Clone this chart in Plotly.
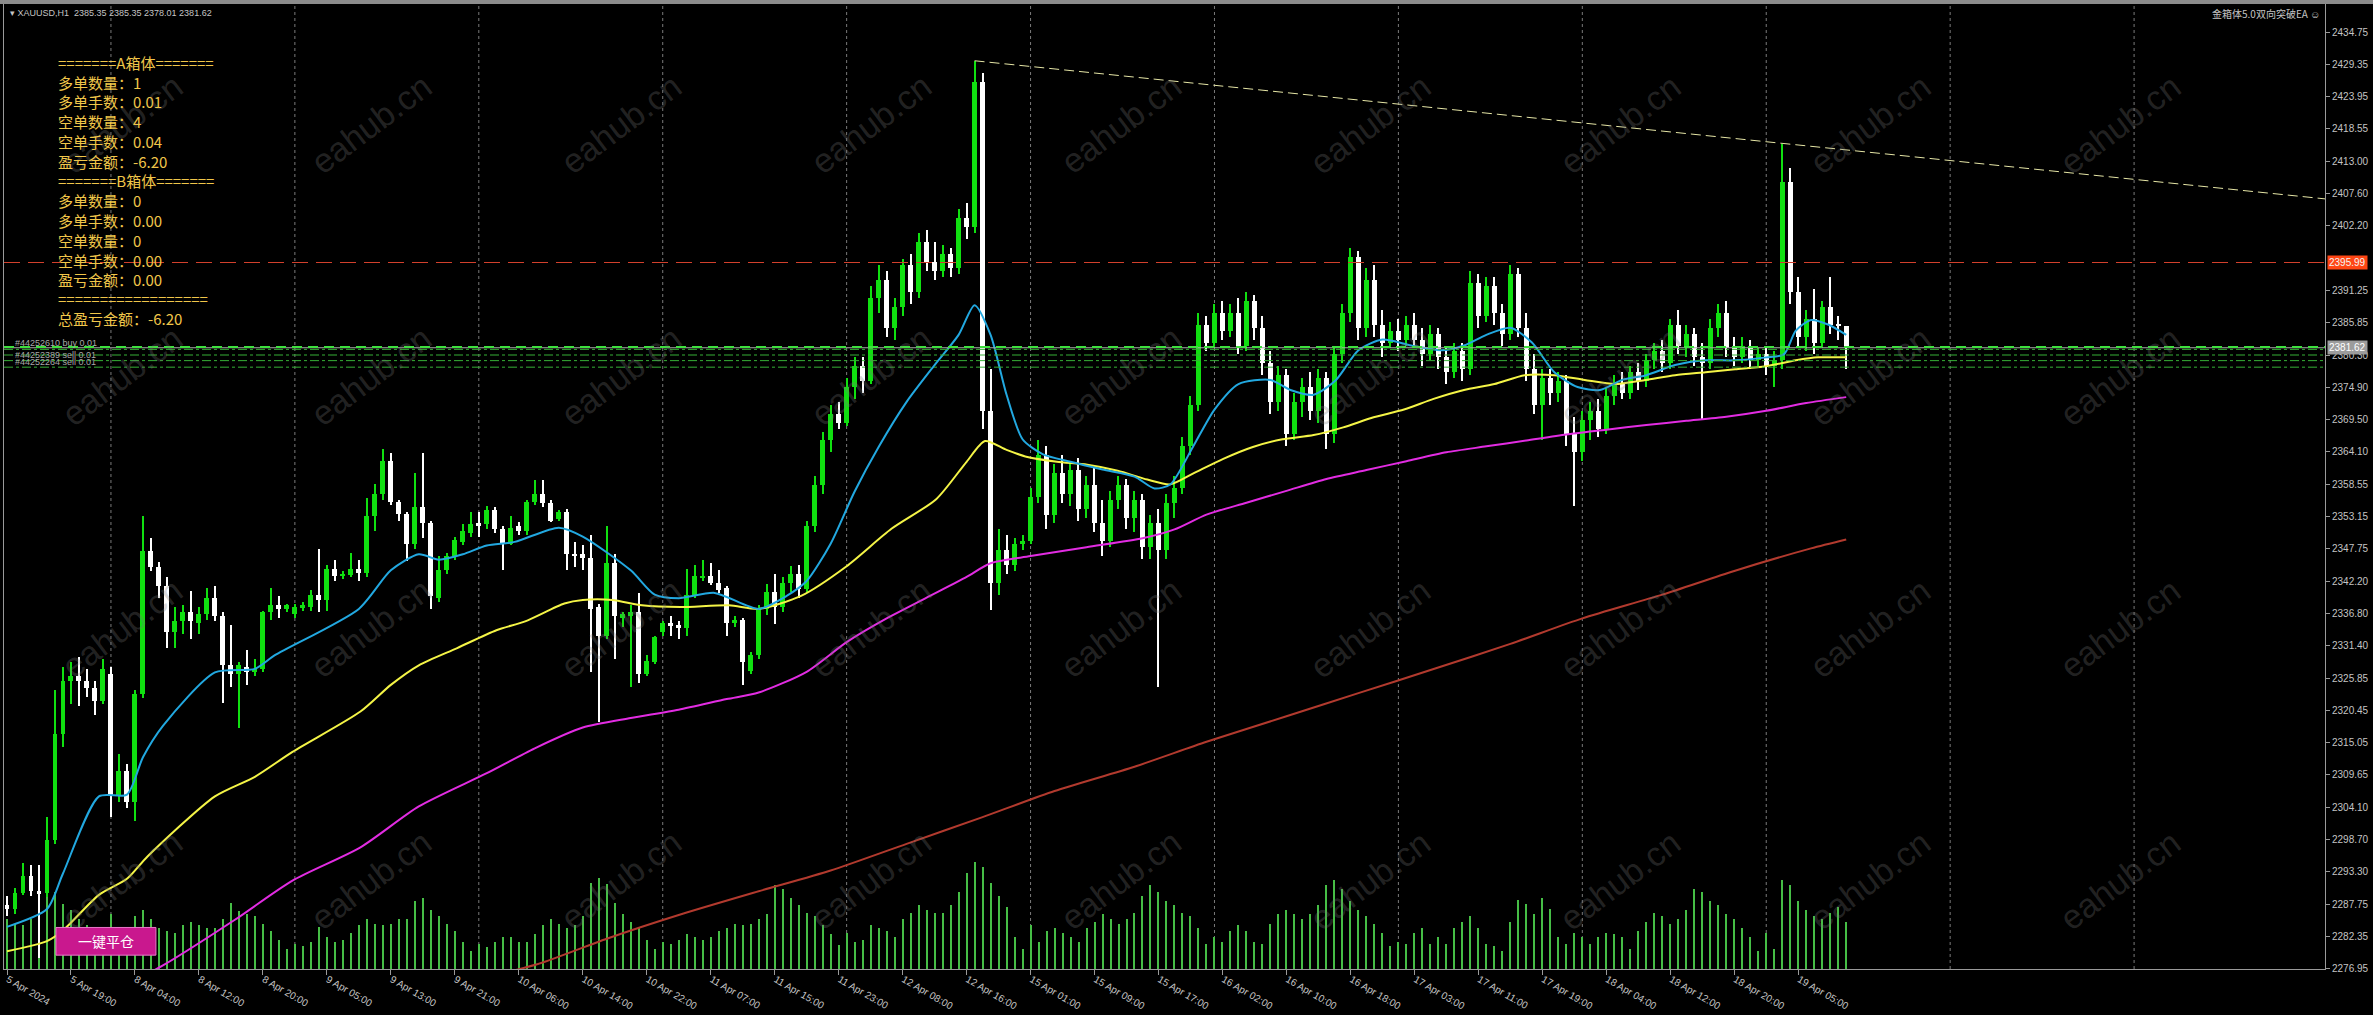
import plotly.graph_objects as go

# ---------------- data ----------------
opens = [
    2287.7, 2287.0, 2289.7, 2292.6, 2290.0, 2289.7, 2298.6, 2316.45, 2325.4, 2326.3,
    2325.4, 2324.2, 2322.1, 2326.6, 2306.0, 2310.2, 2305.1, 2323.3, 2347.4, 2344.7,
    2341.4, 2333.7, 2335.5, 2337.0, 2335.2, 2336.7, 2339.4, 2336.4, 2328.1, 2326.6,
    2327.8, 2326.9, 2327.5, 2337.0, 2338.2, 2337.6, 2336.7, 2337.9, 2337.9, 2340.0,
    2339.1, 2344.4, 2343.2, 2343.4, 2344.4, 2343.7, 2353.3, 2356.9, 2362.6, 2355.7,
    2353.6, 2348.6, 2354.8, 2352.1, 2339.4, 2344.1, 2346.5, 2348.9, 2350.4, 2352.1,
    2351.9, 2354.2, 2351.0, 2348.6, 2351.6, 2350.7, 2355.7, 2356.9, 2355.4, 2352.75,
    2353.9, 2346.9, 2346.8, 2346.2, 2337.9, 2333.1, 2345.3, 2336.1, 2336.4, 2337.0,
    2326.6, 2328.65, 2333.7, 2335.2, 2334.9, 2334.3, 2340.0, 2342.9, 2343.2, 2342.0,
    2341.1, 2335.2, 2335.8, 2327.2, 2329.8, 2337.6, 2340.5, 2338.0, 2342.0, 2343.5,
    2341.0, 2351.5, 2358.5, 2366.0, 2370.5, 2369.0, 2375.0, 2378.5, 2376.0, 2390.0,
    2393.0, 2385.0, 2388.5, 2395.5, 2391.0, 2399.5, 2396.0, 2394.5, 2397.5, 2395.0,
    2403.5, 2402.0, 2426.5, 2371.0, 2342.0, 2347.5, 2345.0, 2348.5, 2349.0, 2356.5,
    2363.5, 2353.5, 2360.5, 2357.0, 2361.0, 2354.5, 2358.5, 2352.0, 2349.0, 2356.0,
    2358.5, 2353.0, 2356.0, 2348.0, 2352.0, 2347.5, 2355.5, 2358.0, 2365.0, 2372.0,
    2385.5, 2382.5, 2387.5, 2384.5, 2387.5, 2382.0, 2389.5, 2385.0, 2379.0, 2372.5,
    2377.0, 2367.0, 2372.5, 2375.0, 2371.0, 2376.5, 2367.0, 2380.5, 2387.5, 2397.0,
    2385.0, 2393.0, 2385.5, 2382.5, 2384.5, 2383.0, 2385.5, 2383.0, 2380.5, 2384.0,
    2380.0, 2377.5, 2381.0, 2378.0, 2392.5, 2387.0, 2392.0, 2387.5, 2384.0, 2394.0,
    2385.0, 2378.0, 2372.0, 2376.5, 2374.0, 2376.0, 2367.0, 2364.0, 2369.5, 2371.0,
    2368.0, 2373.5, 2375.5, 2374.0, 2377.5, 2376.0, 2379.5, 2381.0, 2379.0, 2385.5,
    2382.0, 2384.0, 2380.0, 2379.0, 2385.0, 2387.5, 2381.5, 2380.0, 2382.0, 2379.5,
    2380.5, 2378.5, 2379.5, 2409.5, 2391.0, 2383.5, 2386.5, 2382.5, 2388.5, 2385.5,
    2385.35,
]
highs = [
    2289.2, 2290.6, 2294.7, 2294.4, 2294.4, 2302.5, 2323.9, 2327.8, 2328.65, 2329.5,
    2327.5, 2325.5, 2329.2, 2327.8, 2313.2, 2311.5, 2324.0, 2353.3, 2349.5, 2345.5,
    2342.9, 2337.9, 2338.2, 2340.55, 2337.9, 2341.2, 2341.4, 2337.0, 2334.9, 2328.65,
    2330.7, 2329.2, 2337.3, 2341.2, 2339.7, 2338.5, 2338.5, 2338.8, 2340.8, 2347.7,
    2345.0, 2345.9, 2344.0, 2347.1, 2345.9, 2356.3, 2358.7, 2364.6, 2363.8, 2356.0,
    2354.0, 2360.5, 2363.8, 2352.5, 2346.5, 2347.1, 2349.8, 2351.9, 2353.9, 2353.9,
    2355.0, 2354.8, 2351.5, 2353.3, 2352.2, 2356.0, 2359.3, 2359.3, 2356.0, 2354.2,
    2354.5, 2348.9, 2348.3, 2350.1, 2338.5, 2351.6, 2346.8, 2337.0, 2338.2, 2340.3,
    2329.8, 2333.1, 2335.5, 2336.4, 2335.5, 2344.4, 2345.0, 2345.9, 2345.3, 2344.1,
    2341.5, 2336.4, 2336.1, 2330.4, 2338.2, 2341.8, 2343.5, 2343.0, 2344.8, 2345.0,
    2352.5, 2360.0, 2367.5, 2372.0, 2372.5, 2376.5, 2380.0, 2380.0, 2392.0, 2395.5,
    2394.5, 2390.0, 2396.5, 2397.5, 2401.0, 2401.5, 2399.5, 2399.0, 2398.5, 2405.0,
    2406.0, 2430.0, 2428.0, 2378.0, 2351.0, 2350.0, 2349.5, 2350.0, 2358.0, 2366.0,
    2365.0, 2362.0, 2363.5, 2362.5, 2363.0, 2360.0, 2361.5, 2356.0, 2357.5, 2360.0,
    2359.5, 2357.5, 2357.0, 2353.5, 2354.5, 2357.0, 2360.0, 2366.5, 2373.5, 2387.5,
    2387.0, 2389.0, 2389.5, 2389.0, 2390.0, 2391.0, 2390.5, 2387.0, 2381.0, 2378.5,
    2378.0, 2374.0, 2376.5, 2377.5, 2378.0, 2377.5, 2382.0, 2389.0, 2398.5, 2398.0,
    2395.0, 2395.5, 2388.0, 2386.0, 2386.5, 2387.0, 2387.5, 2385.0, 2385.5, 2385.0,
    2382.0, 2382.5, 2382.5, 2394.5, 2394.0, 2393.5, 2393.5, 2389.0, 2395.5, 2395.0,
    2387.5, 2380.5, 2378.0, 2378.0, 2377.5, 2377.0, 2370.0, 2371.0, 2372.5, 2373.0,
    2375.0, 2377.0, 2377.5, 2378.5, 2379.0, 2380.5, 2382.5, 2383.0, 2386.5, 2388.0,
    2385.5, 2385.0, 2382.5, 2386.5, 2389.0, 2389.5, 2383.5, 2383.5, 2383.0, 2381.5,
    2382.0, 2381.0, 2416.0, 2412.0, 2393.5, 2388.0, 2391.5, 2389.5, 2393.5, 2387.0,
    2385.35,
]
lows = [
    2285.9, 2286.2, 2289.3, 2289.2, 2278.7, 2289.0, 2298.0, 2314.4, 2321.5, 2321.2,
    2322.7, 2319.7, 2321.5, 2302.5, 2305.0, 2304.0, 2301.9, 2322.5, 2344.0, 2339.4,
    2331.0, 2331.0, 2333.4, 2332.5, 2333.4, 2335.8, 2335.5, 2321.8, 2324.5, 2317.6,
    2324.8, 2326.3, 2326.9, 2335.8, 2336.1, 2337.0, 2336.0, 2337.3, 2337.3, 2337.0,
    2337.3, 2342.3, 2342.6, 2342.9, 2342.3, 2343.0, 2350.7, 2356.0, 2355.1, 2352.45,
    2345.6, 2347.7, 2349.5, 2337.6, 2338.8, 2343.5, 2345.9, 2348.3, 2349.8, 2349.8,
    2351.0, 2350.4, 2344.1, 2348.3, 2350.0, 2350.1, 2355.1, 2354.8, 2352.2, 2352.45,
    2344.1, 2344.7, 2344.1, 2326.9, 2318.5, 2332.5, 2329.2, 2334.6, 2324.5, 2325.1,
    2326.3, 2328.3, 2333.1, 2333.1, 2332.5, 2333.1, 2339.4, 2342.3, 2341.7, 2340.3,
    2333.1, 2334.6, 2324.8, 2326.6, 2329.2, 2336.5, 2335.0, 2337.0, 2340.5, 2339.5,
    2340.5, 2350.5, 2357.0, 2364.0, 2368.0, 2368.5, 2373.0, 2374.0, 2375.5, 2387.5,
    2383.5, 2383.0, 2387.0, 2389.0, 2390.0, 2394.5, 2393.0, 2393.5, 2393.5, 2394.0,
    2400.0, 2401.0, 2368.0, 2337.5, 2340.0, 2343.5, 2344.0, 2347.5, 2348.5, 2355.5,
    2351.0, 2352.0, 2355.5, 2355.0, 2352.5, 2353.0, 2350.5, 2346.5, 2348.0, 2354.5,
    2351.0, 2350.5, 2346.0, 2346.0, 2324.5, 2346.0, 2353.0, 2357.0, 2363.5, 2371.0,
    2381.0, 2381.5, 2383.0, 2383.5, 2380.5, 2381.0, 2383.0, 2377.0, 2370.5, 2371.0,
    2365.0, 2366.0, 2370.0, 2369.5, 2369.0, 2364.5, 2365.5, 2379.0, 2386.0, 2383.0,
    2383.5, 2383.5, 2380.0, 2381.5, 2381.0, 2382.0, 2381.5, 2378.5, 2379.5, 2378.0,
    2375.5, 2376.5, 2376.0, 2377.0, 2385.0, 2386.0, 2385.5, 2382.0, 2383.0, 2383.5,
    2376.0, 2370.5, 2366.0, 2372.0, 2372.5, 2365.0, 2355.0, 2362.5, 2366.0, 2366.5,
    2367.0, 2372.0, 2373.0, 2373.0, 2374.5, 2375.0, 2378.0, 2377.5, 2378.0, 2380.5,
    2380.0, 2378.5, 2369.5, 2378.0, 2383.5, 2380.0, 2378.5, 2379.0, 2378.0, 2378.5,
    2377.0, 2375.0, 2378.0, 2389.0, 2381.5, 2381.0, 2380.5, 2381.5, 2384.0, 2383.0,
    2378.01,
]
closes = [
    2287.0, 2289.7, 2292.6, 2290.0, 2289.7, 2298.6, 2316.45, 2325.4, 2326.3, 2325.4,
    2324.2, 2322.1, 2327.5, 2306.0, 2310.2, 2305.1, 2323.3, 2347.4, 2344.7, 2341.4,
    2333.7, 2335.5, 2337.0, 2335.5, 2336.7, 2339.4, 2336.4, 2328.1, 2326.6, 2328.1,
    2326.9, 2327.5, 2337.0, 2338.2, 2337.6, 2338.2, 2337.9, 2338.2, 2340.0, 2339.1,
    2344.4, 2343.2, 2343.5, 2344.3, 2343.7, 2353.3, 2356.9, 2362.6, 2355.7, 2353.6,
    2348.6, 2354.8, 2352.1, 2339.7, 2344.1, 2346.5, 2349.2, 2350.7, 2351.9, 2351.6,
    2354.2, 2351.0, 2348.6, 2351.3, 2350.7, 2355.7, 2356.9, 2355.4, 2352.45, 2353.9,
    2346.8, 2346.6, 2346.2, 2337.6, 2333.1, 2345.3, 2336.4, 2336.7, 2337.0, 2326.6,
    2328.9, 2332.8, 2335.2, 2334.7, 2334.3, 2340.0, 2343.2, 2343.2, 2342.0, 2340.8,
    2335.2, 2335.8, 2328.65, 2329.8, 2337.6, 2340.5, 2338.0, 2342.0, 2343.5, 2341.0,
    2351.5, 2358.5, 2366.0, 2370.5, 2369.0, 2375.0, 2378.5, 2376.0, 2390.0, 2393.0,
    2385.0, 2388.5, 2395.5, 2391.0, 2399.5, 2396.0, 2394.5, 2397.5, 2395.0, 2403.5,
    2402.0, 2426.5, 2371.0, 2342.0, 2347.5, 2345.0, 2348.5, 2349.0, 2356.5, 2363.5,
    2353.5, 2360.5, 2357.0, 2361.0, 2354.5, 2358.5, 2352.0, 2349.0, 2356.0, 2358.5,
    2353.0, 2356.0, 2348.0, 2352.0, 2347.5, 2355.5, 2358.0, 2365.0, 2372.0, 2385.5,
    2382.5, 2387.5, 2384.5, 2387.5, 2382.0, 2389.5, 2385.0, 2379.0, 2372.5, 2377.0,
    2367.0, 2372.5, 2375.0, 2371.0, 2376.5, 2367.0, 2380.5, 2387.5, 2397.0, 2385.0,
    2393.0, 2385.5, 2382.5, 2384.5, 2383.0, 2385.5, 2383.0, 2380.5, 2384.0, 2380.0,
    2377.5, 2381.0, 2378.0, 2392.5, 2387.0, 2392.0, 2387.5, 2384.0, 2394.0, 2385.0,
    2378.0, 2372.0, 2376.5, 2374.0, 2376.0, 2367.0, 2364.0, 2369.5, 2371.0, 2368.0,
    2373.5, 2375.5, 2374.0, 2377.5, 2376.0, 2379.5, 2381.0, 2379.0, 2385.5, 2382.0,
    2384.0, 2380.0, 2379.0, 2385.0, 2387.5, 2381.5, 2380.0, 2382.0, 2379.5, 2380.5,
    2378.5, 2379.5, 2409.5, 2391.0, 2383.5, 2386.5, 2382.5, 2388.5, 2385.5, 2385.35,
    2381.62,
]
volumes = (
    [55, 50, 48, 55, 110, 100, 85, 72, 65, 55, 48, 40, 28]
    + [60, 40, 36, 58, 65, 55, 45, 42, 40, 48, 52, 48, 45, 45, 55, 73, 64, 60, 58, 50, 42, 32, 22]
    + [28, 25, 30, 46, 35, 30, 32, 40, 48, 55, 50, 48, 50, 55, 55, 75, 78, 65, 58, 50, 42, 30, 20]
    + [28, 24, 30, 35, 35, 30, 30, 38, 48, 55, 50, 45, 48, 58, 95, 100, 93, 73, 60, 52, 45, 32, 22]
    + [30, 28, 32, 38, 35, 32, 35, 42, 45, 50, 48, 50, 55, 60, 92, 88, 78, 70, 62, 58, 48, 38, 26]
    + [40, 30, 32, 48, 45, 42, 35, 55, 62, 70, 65, 62, 62, 70, 85, 105, 118, 112, 95, 80, 68, 35, 22]
    + [48, 30, 42, 45, 40, 35, 30, 45, 52, 60, 55, 50, 55, 62, 80, 92, 85, 75, 70, 62, 58, 45, 28]
    + [35, 30, 42, 48, 42, 30, 28, 50, 60, 65, 60, 55, 60, 70, 92, 98, 88, 75, 65, 58, 50, 40, 25]
    + [30, 28, 40, 45, 28, 35, 28, 45, 52, 58, 45, 28, 25, 20, 52, 76, 71, 60, 78, 66, 35, 27, 40]
    + [35, 28, 35, 40, 38, 35, 22, 42, 52, 62, 58, 50, 55, 65, 88, 85, 75, 70, 60, 55, 45, 35, 20]
    + [40, 22, 98, 92, 75, 65, 58, 55, 62, 68, 52]
)

# moving averages (bar index, price)
ma_blue_x = [0, 5, 7, 11.5, 15, 17, 19.5, 26, 31, 33.5, 44, 48, 51.5, 54, 57, 60, 63.5, 69, 72, 78, 81, 84,
             88.5, 94, 97.5, 100, 103, 106, 109, 112.5, 116, 119, 121, 123, 125, 127, 129.5, 133, 137, 141,
             143.5, 145.5, 148.3, 151, 154, 158, 160.5, 163.4, 166.2, 169, 172, 175.6, 179.4, 182.2, 185,
             188, 190.7, 193.5, 196.4, 199.2, 202, 205, 208.6, 212.4, 216, 220, 222.2, 223.7, 225.6, 227.8, 230]
ma_blue_y = [2284.0, 2287.0, 2293.0, 2306.0, 2306.3, 2312.6, 2317.9, 2326.9, 2327.5, 2329.8, 2337.6, 2344.1,
             2346.8, 2345.9, 2346.8, 2348.3, 2348.9, 2351.3, 2349.8, 2344.1, 2340.0, 2339.4, 2340.3, 2337.6,
             2339.8, 2342.3, 2348.6, 2357.4, 2364.9, 2372.5, 2378.7, 2383.8, 2388.8, 2383.8, 2373.7, 2366.2,
             2363.7, 2362.4, 2361.1, 2359.9, 2357.9, 2358.6, 2364.9, 2371.2, 2375.5, 2376.2, 2374.5, 2373.7,
             2376.2, 2381.2, 2383.0, 2382.0, 2381.2, 2382.0, 2383.8, 2385.0, 2382.5, 2377.5, 2375.0, 2374.5,
             2376.2, 2377.0, 2378.7, 2379.5, 2379.5, 2380.0, 2380.5, 2384.5, 2386.3, 2385.5, 2383.8]
ma_yellow_x = [0, 3, 5, 7, 11.5, 15, 17.6, 26, 31, 35.7, 44.2, 48, 51.5, 56.3, 61.2, 64.8, 69.7, 72, 75.7,
               79.4, 84.2, 90.3, 94, 99.3, 105, 110.6, 116.2, 120, 122.3, 125, 127.6, 131.3, 135.1, 138.9,
               142.6, 145.5, 148.3, 152.1, 155.8, 159.5, 163.4, 167.1, 170.9, 174.7, 178.4, 182.2, 186,
               189.8, 193.5, 197.3, 201.1, 204.9, 208.6, 212.4, 216.1, 219.9, 223.7, 226.5, 230]
ma_yellow_y = [2279.9, 2280.8, 2281.6, 2283.4, 2289.4, 2292.1, 2295.9, 2306.0, 2309.3, 2313.5, 2320.3, 2324.8,
               2328.1, 2331.0, 2334.0, 2335.5, 2338.5, 2339.1, 2339.1, 2338.2, 2337.9, 2338.2, 2337.6, 2339.8,
               2344.8, 2351.1, 2356.1, 2362.4, 2365.9, 2364.4, 2363.2, 2362.4, 2361.9, 2360.9, 2359.4, 2358.6,
               2360.4, 2362.9, 2364.9, 2366.2, 2366.9, 2368.2, 2369.9, 2371.2, 2373.0, 2374.5, 2375.5, 2377.0,
               2377.0, 2376.2, 2375.5, 2376.2, 2377.0, 2377.5, 2378.0, 2378.5, 2379.5, 2380.0, 2380.0]
ma_magenta_x = [16, 19.5, 28.5, 35.7, 44.2, 51.5, 60, 66, 72, 78, 84, 90, 94, 100, 105, 110, 115, 120, 123,
                128, 135, 142, 146, 150, 155, 160, 165, 170, 175, 180, 185, 190, 195, 200, 205, 210, 215,
                220, 225, 230]
ma_magenta_y = [2275.0, 2277.5, 2285.2, 2291.8, 2297.4, 2304.3, 2309.9, 2314.1, 2317.6, 2319.2, 2320.6,
                2322.4, 2323.5, 2327.0, 2332.0, 2336.0, 2339.5, 2343.0, 2345.3, 2346.5, 2348.0, 2349.5,
                2351.0, 2353.5, 2355.5, 2357.5, 2359.5, 2361.0, 2362.5, 2364.0, 2365.0, 2366.0, 2367.0,
                2367.8, 2368.6, 2369.3, 2370.0, 2371.0, 2372.3, 2373.3]
ma_brown_x = [63, 67, 75, 84, 94, 103, 112.5, 122, 131, 141, 150, 160, 169, 178.5, 188, 197, 207, 216,
              225.6, 230]
ma_brown_y = [2276.5, 2278.0, 2282.0, 2286.0, 2290.0, 2293.5, 2298.0, 2302.5, 2306.9, 2311.0, 2315.2,
              2319.5, 2323.4, 2327.5, 2331.7, 2336.0, 2340.0, 2344.0, 2347.8, 2349.3]

trend_x = [121, 290]
trend_y = [2430.0, 2406.7]

x_tick_bars = [0, 8, 16, 24, 32, 40, 48, 56, 64, 72, 80, 88, 96, 104, 112, 120, 128, 136, 144, 152, 160,
               168, 176, 184, 192, 200, 208, 216, 224]
x_tick_labels = ["5 Apr 2024", "5 Apr 19:00", "8 Apr 04:00", "8 Apr 12:00", "8 Apr 20:00", "9 Apr 05:00",
                 "9 Apr 13:00", "9 Apr 21:00", "10 Apr 06:00", "10 Apr 14:00", "10 Apr 22:00",
                 "11 Apr 07:00", "11 Apr 15:00", "11 Apr 23:00", "12 Apr 08:00", "12 Apr 16:00",
                 "15 Apr 01:00", "15 Apr 09:00", "15 Apr 17:00", "16 Apr 02:00", "16 Apr 10:00",
                 "16 Apr 18:00", "17 Apr 03:00", "17 Apr 11:00", "17 Apr 19:00", "18 Apr 04:00",
                 "18 Apr 12:00", "18 Apr 20:00", "19 Apr 05:00"]
y_tick_prices = [2434.75, 2429.35, 2423.95, 2418.55, 2413.00, 2407.60, 2402.20, 2391.25, 2385.85, 2380.30,
                 2374.90, 2369.50, 2364.10, 2358.55, 2353.15, 2347.75, 2342.20, 2336.80, 2331.40, 2325.85,
                 2320.45, 2315.05, 2309.65, 2304.10, 2298.70, 2293.30, 2287.75, 2282.35, 2276.95]
day_start_bars = [13, 36, 59, 82, 105, 128, 151, 174, 197, 220, 243, 266]

level_price = 2395.99
bid_price = 2381.62
buy_price = 2381.75
sell_prices = [2381.35, 2380.40, 2379.45, 2378.35]
order_labels = ["#44252610 buy 0.01", "#44252389 sell 0.01", "#44252264 sell 0.01"]

panel_lines = ["=======A箱体=======", "多单数量：1", "多单手数：0.01", "空单数量：4", "空单手数：0.04",
               "盈亏金额：-6.20", "=======B箱体=======", "多单数量：0", "多单手数：0.00", "空单数量：0",
               "空单手数：0.00", "盈亏金额：0.00", "==================", "总盈亏金额：-6.20"]

assert len(opens) == len(highs) == len(lows) == len(closes) == len(volumes)

# ---------------- layout geometry ----------------
W, H = 2373, 1015
ML, MR, MT, MB = 3, 48, 4, 35
PW = W - ML - MR
PH = H - MT - MB


def px_x(x):
    return (x - ML) / PW


def px_y(y):
    return (H - MB - y) / PH


n = len(closes)
idx = list(range(n))
bull = [c >= o for o, c in zip(opens, closes)]
cols = ['#10e010' if b else '#ffffff' for b in bull]
body_base = [min(o, c) for o, c in zip(opens, closes)]
body_h = [max(abs(c - o), 0.15) for o, c in zip(opens, closes)]
wick_h = [h - l for h, l in zip(highs, lows)]

fig = go.Figure()
fig.add_trace(go.Bar(x=idx, y=volumes, width=0.13, marker=dict(color='#46be46', line_width=0),
                     yaxis='y', hoverinfo='skip', showlegend=False))
fig.add_trace(go.Bar(x=idx, y=wick_h, base=lows, width=0.14, marker=dict(color=cols, line_width=0),
                     yaxis='y2', hoverinfo='skip', showlegend=False))
fig.add_trace(go.Bar(x=idx, y=body_h, base=body_base, width=0.62, marker=dict(color=cols, line_width=0),
                     yaxis='y2', hoverinfo='skip', showlegend=False))

for xs, ys, c in [(ma_brown_x, ma_brown_y, '#b23a2e'), (ma_magenta_x, ma_magenta_y, '#e22ce2'),
                  (ma_yellow_x, ma_yellow_y, '#f4f446'), (ma_blue_x, ma_blue_y, '#22a8e0')]:
    fig.add_trace(go.Scatter(x=xs, y=ys, mode='lines', yaxis='y2', hoverinfo='skip', showlegend=False,
                             line=dict(color=c, width=2, shape='spline', smoothing=0.7)))

fig.add_trace(go.Scatter(x=trend_x, y=trend_y, mode='lines', yaxis='y2', hoverinfo='skip', showlegend=False,
                         line=dict(color='#e6e6a6', width=1, dash='10px,5px')))

shapes = []
for b in day_start_bars:
    shapes.append(dict(type='line', xref='x', yref='paper', x0=b, x1=b, y0=0, y1=1, layer='below',
                       line=dict(color='#7a7a7a', width=1, dash='3px,3px')))
shapes.append(dict(type='line', xref='paper', yref='y2', x0=0, x1=1, y0=level_price, y1=level_price,
                   line=dict(color='#d2402c', width=1, dash='16px,8px')))
for p in sell_prices:
    shapes.append(dict(type='line', xref='paper', yref='y2', x0=0, x1=1, y0=p, y1=p,
                       line=dict(color='#36b036', width=1, dash='dashdot')))
shapes.append(dict(type='line', xref='paper', yref='y2', x0=0, x1=1, y0=bid_price, y1=bid_price,
                   line=dict(color='#a8a8a8', width=1)))
shapes.append(dict(type='line', xref='paper', yref='y2', x0=0, x1=1, y0=buy_price, y1=buy_price,
                   line=dict(color='#3ee03e', width=2, dash='10px,6px')))
# window frame strip on top
shapes.append(dict(type='rect', xref='paper', yref='paper', x0=-0.01, x1=1.03, y0=1.0, y1=1 + 4 / PH,
                   fillcolor='#8c8c8c', line_width=0))
# close-all button
shapes.append(dict(type='rect', xref='paper', yref='paper', x0=px_x(55), x1=px_x(155), y0=px_y(966),
                   y1=px_y(938), fillcolor='#c9188e', line=dict(color='#e878c8', width=1)))

ann = []
# watermarks
for ry in [125, 380, 635, 890]:
    for cx in [121, 370, 620, 870, 1120, 1370, 1620, 1870, 2120]:
        ann.append(dict(x=px_x(cx), y=px_y(ry), xref='paper', yref='paper', text='eahub.cn', showarrow=False,
                        xanchor='center', yanchor='middle', textangle=-37,
                        font=dict(family='Liberation Sans', size=34, color='rgba(120,120,120,0.30)')))
# info panel
line_y = [63, 83, 103, 123, 143, 163, 183, 203, 223, 243, 263, 283, 302, 322]
for t, yy in zip(panel_lines, line_y):
    ann.append(dict(x=px_x(55), y=px_y(yy), xref='paper', yref='paper', text=t, showarrow=False,
                    xanchor='left', yanchor='middle',
                    font=dict(family='Noto Sans CJK SC', size=15, color='#f0c64a')))
# header texts
ann.append(dict(x=px_x(7), y=px_y(13), xref='paper', yref='paper', showarrow=False, xanchor='left',
                yanchor='middle', text='▾ XAUUSD,H1  2385.35 2385.35 2378.01 2381.62',
                font=dict(family='Liberation Sans', size=9, color='#c4c4c4')))
ann.append(dict(x=px_x(2322), y=px_y(14), xref='paper', yref='paper', showarrow=False, xanchor='right',
                yanchor='middle', text='金箱体5.0双向突破EA ☺',
                font=dict(family='Noto Sans CJK SC', size=10, color='#c4c4c4')))
# order labels
for t, yy in zip(order_labels, [347, 359, 366]):
    ann.append(dict(x=px_x(12), y=px_y(yy), xref='paper', yref='paper', showarrow=False, xanchor='left',
                    yanchor='middle', text=t, font=dict(family='Liberation Sans', size=9, color='#a8a8a8')))
# button text
ann.append(dict(x=px_x(105), y=px_y(952), xref='paper', yref='paper', showarrow=False, text='一键平仓',
                xanchor='center', yanchor='middle',
                font=dict(family='Noto Sans CJK SC', size=14, color='#ffffff')))
# price boxes on the axis
ann.append(dict(x=1, y=level_price, xref='paper', yref='y2', xanchor='left', yanchor='middle', xshift=2,
                showarrow=False, text='%.2f' % level_price, bgcolor='#ff4614', borderpad=1,
                font=dict(family='Liberation Sans', size=10, color='#f4f4f4')))
ann.append(dict(x=1, y=bid_price, xref='paper', yref='y2', xanchor='left', yanchor='middle', xshift=2,
                showarrow=False, text='%.2f' % bid_price, bgcolor='#9c9c9c', borderpad=1,
                font=dict(family='Liberation Sans', size=10, color='#ffffff')))

tickfont = dict(family='Liberation Sans', size=10, color='#c4c4c4')
fig.update_layout(
    width=W, height=H, margin=dict(l=ML, r=MR, t=MT, b=MB, pad=0),
    paper_bgcolor='#000000', plot_bgcolor='#000000', barmode='overlay', bargap=0,
    showlegend=False, shapes=shapes, annotations=ann,
    xaxis=dict(range=[-0.375, (PW / 8) - 0.375], tickvals=x_tick_bars, ticktext=x_tick_labels,
               ticks='outside', ticklen=5, tickcolor='#9a9a9a', tickfont=tickfont,
               ticklabelposition='outside right', showline=True, linecolor='#9a9a9a', linewidth=1,
               mirror=True, showgrid=False, zeroline=False, fixedrange=True),
    yaxis=dict(range=[0, PH / 0.92], visible=False, fixedrange=True),
    yaxis2=dict(overlaying='y', side='right', range=[2276.9, 2276.9 + PH / 6.0],
                tickvals=y_tick_prices, ticktext=['%.2f' % v for v in y_tick_prices],
                ticks='outside', ticklen=4, tickcolor='#9a9a9a', tickfont=tickfont,
                showline=True, linecolor='#9a9a9a', linewidth=1, mirror=True,
                showgrid=False, zeroline=False, fixedrange=True),
)

fig.write_html("out.html", config={'displayModeBar': False},
               post_script="document.body.style.margin='0px';document.body.style.overflow='hidden';"
                           "document.body.style.background='#000';")
